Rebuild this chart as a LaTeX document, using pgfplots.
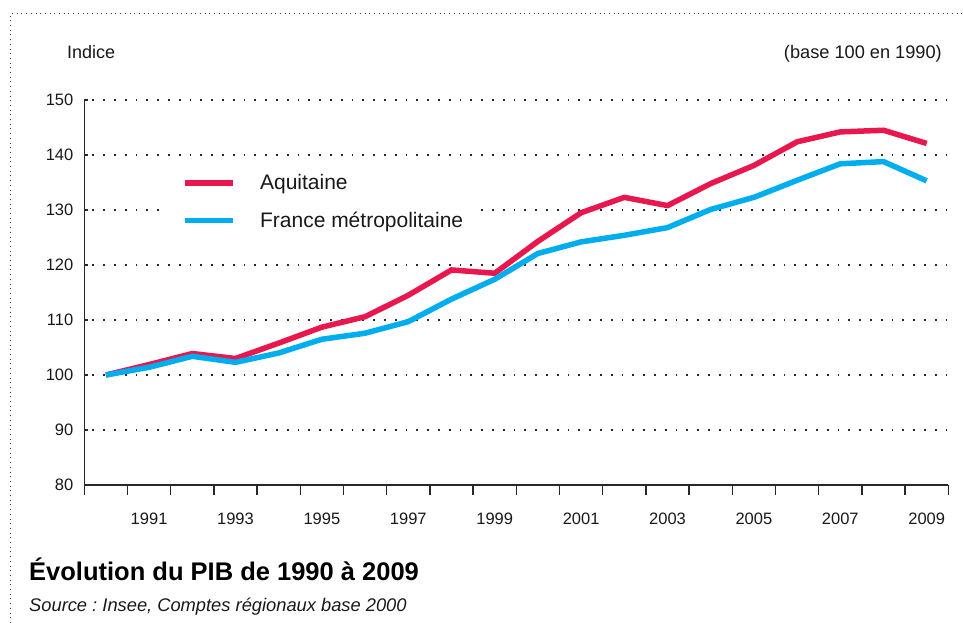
\documentclass[border=0pt]{standalone}
\usepackage{pgfplots}
\pgfplotsset{compat=1.18}
\usepackage{fontspec}
\setmainfont{Liberation Sans}
\definecolor{aqred}{RGB}{232,23,77}
\definecolor{frblue}{RGB}{0,174,239}
\definecolor{axisgray}{RGB}{40,40,40}
\begin{document}
\begin{tikzpicture}
\useasboundingbox (0pt,0pt) rectangle (963pt,623pt);
\draw[black!75, line width=1pt, dash pattern=on 1pt off 3.7pt] (10pt,0pt) -- (10pt,609pt) -- (963pt,609pt);
\node[anchor=base west, font=\fontsize{18}{22}\selectfont, inner sep=0pt, text=black!90] at (67pt,564.5pt) {Indice};
\node[anchor=base east, font=\fontsize{18.2}{22}\selectfont, inner sep=0pt, text=black!90] at (942pt,564.5pt) {(base 100 en 1990)};
\node[anchor=base west, font=\bfseries\fontsize{25.5}{30}\selectfont, inner sep=0pt] at (29pt,42pt) {Évolution du PIB de 1990 à 2009};
\node[anchor=base west, font=\itshape\fontsize{18.3}{22}\selectfont, inner sep=0pt, text=black!90] at (29pt,11.5pt) {Source~:~Insee, Comptes régionaux base 2000};
\begin{axis}[
  at={(84.3pt,138pt)}, anchor=south west,
  scale only axis, width=864pt, height=385pt,
  xmin=1989.5, xmax=2009.5, ymin=80, ymax=150,
  axis x line*=bottom, axis y line*=left,
  axis line style={axisgray, line width=1.3pt, -},
  tick align=inside, major tick length=10pt,
  tick style={axisgray, line width=1.3pt},
  xtick={1989.5,1990.5,1991.5,1992.5,1993.5,1994.5,1995.5,1996.5,1997.5,1998.5,1999.5,2000.5,2001.5,2002.5,2003.5,2004.5,2005.5,2006.5,2007.5,2008.5,2009.5},
  xticklabels={,,1991,,1993,,1995,,1997,,1999,,2001,,2003,,2005,,2007,,2009},
  xtick style={yshift=-10pt},
  ytick={80,90,...,150},
  ytick style={dash pattern=on 4pt off 30pt},
  ymajorgrids,
  grid style={axisgray, line width=1.8pt, dash pattern=on 1.8pt off 9pt, dash phase=-8pt},
  /pgf/number format/assume math mode=true,
  tick label style={font=\fontsize{16.5}{20}\selectfont, text=black!90},
  xticklabel style={anchor=north, inner sep=0pt, yshift=-28pt, xshift=-21.6pt},
  yticklabel style={anchor=east, inner sep=0pt, xshift=-10.8pt},
  legend image code/.code={\draw[#1, line width=5.5pt] (0pt,0pt) -- (48pt,0pt);},
  legend style={at={(axis cs:1991.4,137.6)}, anchor=north west, draw=none, fill=white,
    inner xsep=16pt, inner ysep=6pt, font=\fontsize{21}{25}\selectfont, text=black!90,
    row sep=21pt, nodes={inner sep=0pt},
    /tikz/every odd column/.append style={column sep=24pt}},
  legend cell align=left,
  clip=false,
]
\addplot[aqred, line width=5.5pt] coordinates {
(1990,100) (1991,101.9) (1992,103.9) (1993,103.0) (1994,105.8) (1995,108.7)
(1996,110.6) (1997,114.5) (1998,119.1) (1999,118.5) (2000,124.3) (2001,129.5)
(2002,132.3) (2003,130.8) (2004,134.8) (2005,138.1) (2006,142.4) (2007,144.2)
(2008,144.5) (2009,142.1)};
\addlegendentry{Aquitaine}
\addplot[frblue, line width=5.5pt] coordinates {
(1990,100) (1991,101.4) (1992,103.4) (1993,102.3) (1994,104.0) (1995,106.5)
(1996,107.6) (1997,109.7) (1998,113.8) (1999,117.4) (2000,122.1) (2001,124.2)
(2002,125.4) (2003,126.8) (2004,130.1) (2005,132.3) (2006,135.4) (2007,138.4)
(2008,138.8) (2009,135.3)};
\addlegendentry{France métropolitaine}
\end{axis}
\end{tikzpicture}
\end{document}
